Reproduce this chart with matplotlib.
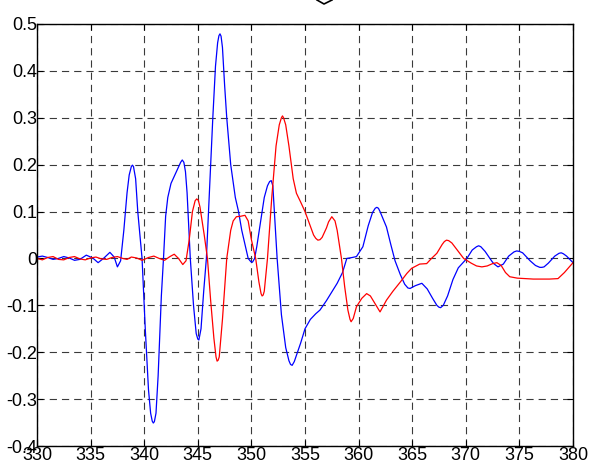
import matplotlib
matplotlib.use('Agg')
import matplotlib.pyplot as plt
from matplotlib.lines import Line2D

plt.rcParams['font.family'] = ['Liberation Sans', 'DejaVu Sans']

# blue trace (x, y)
blue_x = [330.0, 330.5, 331.0, 331.5, 332.0, 332.5, 333.0, 333.5, 334.0, 334.6,
          335.2, 335.7, 336.2, 336.8, 337.2, 337.5, 337.8, 338.1, 338.4, 338.6,
          338.8, 338.9, 339.0, 339.2, 339.4, 339.8, 340.1, 340.4, 340.6, 340.75,
          340.85, 340.95, 341.1, 341.3, 341.6, 341.8, 342.0, 342.2, 342.5, 342.9,
          343.2, 343.4, 343.55, 343.7, 343.85, 344.0, 344.3, 344.6, 344.85, 345.0,
          345.1, 345.3, 345.55, 345.8, 346.1, 346.4, 346.65, 346.85, 346.97, 347.07,
          347.17, 347.3, 347.5, 347.7, 348.07, 348.5, 348.8, 349.1, 349.4, 349.7,
          349.95, 350.1, 350.3, 350.5, 350.8, 351.2, 351.5, 351.7, 351.85, 352.0,
          352.4, 352.8, 353.2, 353.5, 353.65, 353.8, 354.0, 354.3, 354.6, 355.0,
          355.5, 356.0, 356.4, 357.0, 357.6, 358.0, 358.5, 358.9, 359.4, 359.8,
          360.4, 360.9, 361.3, 361.55, 361.7, 361.85, 362.0, 362.6, 363.0, 363.4,
          363.9, 364.3, 364.6, 364.8, 365.3, 365.9, 366.4, 366.9, 367.3, 367.5,
          367.65, 367.9, 368.3, 368.8, 369.3, 370.1, 370.6, 371.0, 371.2, 371.4,
          371.8, 372.4, 372.6, 373.0, 373.5, 374.0, 374.5, 374.75, 375.0, 375.3,
          376.0, 376.5, 376.9, 377.1, 377.3, 377.7, 378.3, 378.7, 378.9, 379.1,
          379.4, 380.0]
blue_y = [0.003, 0.005, 0.002, -0.002, 0.000, 0.004, 0.001, -0.004, -0.002, 0.007,
          0.001, -0.009, 0.000, 0.013, 0.003, -0.018, -0.005, 0.06, 0.14, 0.178,
          0.196, 0.199, 0.196, 0.17, 0.10, 0.0, -0.15, -0.28, -0.33, -0.347,
          -0.351, -0.348, -0.33, -0.25, -0.08, 0.0, 0.09, 0.13, 0.16, 0.18,
          0.195, 0.205, 0.21, 0.205, 0.185, 0.14, 0.0, -0.10, -0.16, -0.172,
          -0.174, -0.15, -0.07, 0.0, 0.15, 0.30, 0.41, 0.46, 0.475, 0.479,
          0.474, 0.45, 0.37, 0.30, 0.20, 0.13, 0.10, 0.06, 0.03, 0.0,
          -0.007, -0.008, 0.0, 0.025, 0.07, 0.13, 0.155, 0.164, 0.166, 0.155,
          0.0, -0.12, -0.19, -0.218, -0.226, -0.228, -0.22, -0.20, -0.18, -0.15,
          -0.13, -0.118, -0.11, -0.09, -0.068, -0.053, -0.03, 0.0, 0.002, 0.004,
          0.025, 0.07, 0.098, 0.107, 0.109, 0.107, 0.10, 0.067, 0.03, -0.005,
          -0.035, -0.055, -0.063, -0.064, -0.058, -0.053, -0.065, -0.085, -0.1, -0.104,
          -0.105, -0.1, -0.08, -0.045, -0.02, 0.0, 0.018, 0.025, 0.027, 0.025,
          0.015, -0.005, -0.011, -0.018, -0.012, 0.005, 0.014, 0.016, 0.015, 0.012,
          -0.005, -0.015, -0.019, -0.019, -0.018, -0.01, 0.005, 0.011, 0.012, 0.01,
          0.005, -0.009]

# red trace (x, y)
red_x = [330.0, 330.5, 331.0, 331.5, 332.0, 332.5, 333.0, 333.5, 334.0, 334.5,
         335.0, 335.5, 336.0, 336.5, 337.0, 337.5, 338.0, 338.4, 338.8, 339.3,
         339.8, 340.4, 340.9, 341.4, 341.9, 342.4, 342.8, 343.2, 343.6, 343.9,
         344.2, 344.5, 344.75, 344.9, 345.05, 345.2, 345.6, 345.9, 346.2, 346.5,
         346.7, 346.8, 346.9, 347.0, 347.3, 347.7, 348.07, 348.3, 348.6, 349.0,
         349.4, 349.7, 350.0, 350.4, 350.7, 350.9, 351.0, 351.1, 351.2, 351.5,
         351.9, 352.3, 352.6, 352.8, 352.9, 353.0, 353.2, 353.5, 353.9, 354.2,
         354.6, 355.0, 355.4, 355.8, 356.0, 356.2, 356.4, 356.6, 357.0, 357.2,
         357.5, 357.8, 358.0, 358.4, 358.7, 359.0, 359.2, 359.3, 359.5, 359.8,
         360.3, 360.75, 361.1, 361.5, 362.0, 362.6, 363.2, 363.9, 364.5, 364.95,
         365.7, 366.35, 366.8, 367.3, 367.8, 368.0, 368.2, 368.4, 368.7, 369.3,
         369.8, 370.5, 371.0, 371.5, 372.0, 372.5, 372.9, 373.3, 373.7, 374.1,
         374.8, 375.5, 376.3, 377.0, 377.8, 378.6, 379.2, 380.0]
red_y = [0.0, -0.003, 0.002, 0.004, -0.002, -0.003, 0.002, 0.004, -0.001, -0.003,
         0.001, 0.003, -0.001, -0.002, 0.002, 0.004, 0.000, -0.002, 0.003, 0.001,
         -0.004, 0.002, 0.005, 0.0, -0.004, 0.004, 0.009, 0.0, -0.013, -0.005,
         0.04, 0.10, 0.123, 0.127, 0.124, 0.11, 0.05, 0.0, -0.09, -0.17,
         -0.21, -0.219, -0.217, -0.21, -0.13, 0.0, 0.06, 0.08, 0.089, 0.09,
         0.092, 0.08, 0.04, 0.0, -0.05, -0.075, -0.08, -0.078, -0.07, 0.0,
         0.13, 0.24, 0.285, 0.3, 0.304, 0.3, 0.285, 0.24, 0.17, 0.139,
         0.12, 0.10, 0.075, 0.05, 0.043, 0.039, 0.04, 0.045, 0.065, 0.078,
         0.089, 0.08, 0.06, 0.0, -0.06, -0.11, -0.13, -0.135, -0.128, -0.103,
         -0.085, -0.075, -0.08, -0.095, -0.114, -0.089, -0.07, -0.05, -0.032, -0.021,
         -0.012, -0.011, 0.0, 0.011, 0.03, 0.036, 0.039, 0.038, 0.033, 0.015,
         0.0, -0.01, -0.016, -0.018, -0.016, -0.011, -0.009, -0.015, -0.03, -0.039,
         -0.042, -0.043, -0.044, -0.044, -0.044, -0.043, -0.03, -0.009]

x_ticks = [330, 335, 340, 345, 350, 355, 360, 365, 370, 375, 380]
y_ticks = [-0.4, -0.3, -0.2, -0.1, 0, 0.1, 0.2, 0.3, 0.4, 0.5]
y_labels = ['-0.4', '-0.3', '-0.2', '-0.1', '0', '0.1', '0.2', '0.3', '0.4', '0.5']

fig = plt.figure(figsize=(5.94, 4.65), dpi=100)
ax = fig.add_axes([37 / 594, 19 / 465, 536 / 594, 422 / 465])

ax.plot(blue_x, blue_y, color='#0000ff', linewidth=0.9)
ax.plot(red_x, red_y, color='#ff0000', linewidth=0.9)

ax.set_xlim(330, 380)
ax.set_ylim(-0.4, 0.5)
ax.set_xticks(x_ticks)
ax.set_xticklabels([str(t) for t in x_ticks])
ax.set_yticks(y_ticks)
ax.set_yticklabels(y_labels)

ax.grid(True, color='#3a3a3a', linestyle=(0, (6.5, 4.5)), linewidth=0.8)
ax.tick_params(direction='in', length=4, width=0.8, top=True, right=True,
               labelsize=13, colors='black')
ax.tick_params(axis='y', pad=0)
ax.tick_params(axis='x', pad=1)
for s in ax.spines.values():
    s.set_linewidth(1.0)
    s.set_color('black')

# small chevron mark above the axes
fig.add_artist(Line2D([317 / 594, 324 / 594, 332 / 594],
                      [1.0, 1 - 4 / 465, 1.0],
                      transform=fig.transFigure, color='black', linewidth=1.2))

fig.savefig('out.png', dpi=100)
